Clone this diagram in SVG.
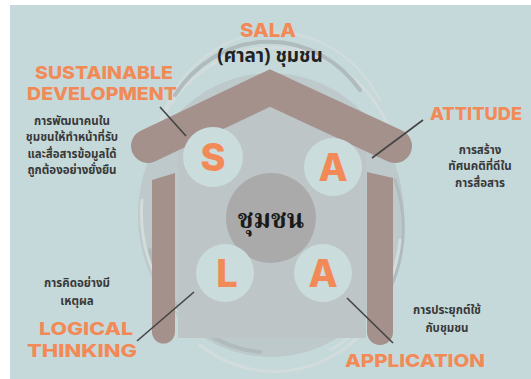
<svg xmlns="http://www.w3.org/2000/svg" width="531" height="379" viewBox="0 0 531 379">
<defs>
<style>
.en{font-family:Inter,"Open Sans","Liberation Sans",sans-serif;font-weight:800;fill:#f28a58;}
.th{font-family:"Noto Sans Thai","Noto Sans","DejaVu Sans",sans-serif;font-weight:700;fill:#383838;font-size:11.5px;text-anchor:middle;}
.lt{font-family:Inter,"Open Sans","Liberation Sans",sans-serif;font-weight:800;fill:#f28a58;font-size:38px;text-anchor:middle;}
.brown{stroke:#a4918c;fill:none;}
.conn{stroke:#444;stroke-width:1.6;fill:none;}
.swl{fill:none;stroke:#d3dcdc;stroke-linecap:round;}
.swd{fill:none;stroke:#afbbbc;stroke-linecap:round;}
.sc{fill:#cbdcdc;}
</style>
</defs>
<rect x="0" y="0" width="531" height="379" fill="#ffffff"/>
<rect x="10" y="5" width="521" height="374" fill="#c6d9da"/>

<g id="backdrop">
<ellipse cx="271" cy="215" rx="133" ry="142" fill="#bdc9ca"/>
<path class="swl" stroke-width="3" d="M150 150 A128 140 0 0 1 390 130"/>
<path class="swl" stroke-width="2" d="M165 110 A120 130 0 0 1 380 100"/>
<path class="swd" stroke-width="4" d="M175 95 A115 125 0 0 1 360 90"/>
<path class="swl" stroke-width="3" d="M142 200 A130 140 0 0 0 200 330"/>
<path class="swd" stroke-width="4" d="M150 250 A125 135 0 0 0 260 352"/>
<path class="swl" stroke-width="3" d="M200 345 A125 135 0 0 0 360 335"/>
<path class="swd" stroke-width="3" d="M395 180 A125 135 0 0 1 370 320"/>
<path class="swl" stroke-width="3" d="M400 240 A128 140 0 0 1 330 350"/>
<polygon points="270,107 178,150 178,338 366,338 366,150" fill="#bdc5c6"/>
</g>

<g id="roof">
<polyline class="brown" stroke-width="34" stroke-linecap="round" stroke-linejoin="miter" points="148,146 270,88 395,146"/>
</g>
<g id="col-left">
<path d="M152 180 L175 173 L175 332 A11.5 11.5 0 0 1 152 332 Z" fill="#a4918c"/>
</g>
<g id="col-right">
<path d="M367 172 L393 178 L393 332 A13 13 0 0 1 367 332 Z" fill="#a4918c"/>
</g>

<g id="connectors">
<line class="conn" x1="160" y1="107" x2="186" y2="136"/>
<line class="conn" x1="423" y1="120" x2="372" y2="158"/>
<line class="conn" x1="137" y1="341" x2="194" y2="292"/>
<line class="conn" x1="347" y1="298" x2="393" y2="343"/>
</g>

<g id="center">
<circle cx="271" cy="218" r="45" fill="#aaaaaa"/>
<text x="271" y="228" text-anchor="middle" font-family="'Noto Serif Thai','Noto Sans Thai','DejaVu Serif',serif" font-weight="700" font-size="26" fill="#1a1a1a">ชุมชน</text>
</g>

<g id="node-s">
<circle class="sc" cx="213" cy="157" r="30"/>
<text class="lt" x="213" y="171">S</text>
</g>
<g id="node-a1">
<circle class="sc" cx="333" cy="167" r="29"/>
<text class="lt" x="333" y="181">A</text>
</g>
<g id="node-l">
<circle class="sc" cx="225" cy="273" r="29"/>
<text class="lt" x="227" y="287">L</text>
</g>
<g id="node-a2">
<circle class="sc" cx="323" cy="273" r="29"/>
<text class="lt" x="323" y="287">A</text>
</g>

<g id="title">
<text class="en" x="268" y="37" font-size="19" text-anchor="middle" textLength="56" lengthAdjust="spacingAndGlyphs">SALA</text>
<text x="270" y="62" text-anchor="middle" font-family="'Noto Sans Thai','Noto Sans','DejaVu Sans',sans-serif" font-weight="700" font-size="19" fill="#222">(ศาลา) ชุมชน</text>
</g>

<g id="label-sd">
<text class="en" x="104" y="79" font-size="18" text-anchor="middle" textLength="138" lengthAdjust="spacingAndGlyphs">SUSTAINABLE</text>
<text class="en" x="102" y="100" font-size="18" text-anchor="middle" textLength="150" lengthAdjust="spacingAndGlyphs">DEVELOPMENT</text>
<text class="th" x="72" y="125">การพัฒนาคนใน</text>
<text class="th" x="72" y="141">ชุมชนให้ทำหน้าที่รับ</text>
<text class="th" x="72" y="158">และสื่อสารข้อมูลได้</text>
<text class="th" x="72" y="174">ถูกต้องอย่างยั่งยืน</text>
</g>

<g id="label-at">
<text class="en" x="476" y="120" font-size="18" text-anchor="middle" textLength="92" lengthAdjust="spacingAndGlyphs">ATTITUDE</text>
<text class="th" x="480" y="154">การสร้าง</text>
<text class="th" x="480" y="170">ทัศนคติที่ดีใน</text>
<text class="th" x="480" y="187">การสื่อสาร</text>
</g>

<g id="label-lt">
<text class="th" x="77" y="287">การคิดอย่างมี</text>
<text class="th" x="77" y="305">เหตุผล</text>
<text class="en" x="86" y="335" font-size="17" text-anchor="middle" textLength="94" lengthAdjust="spacingAndGlyphs">LOGICAL</text>
<text class="en" x="82" y="357" font-size="17" text-anchor="middle" textLength="110" lengthAdjust="spacingAndGlyphs">THINKING</text>
</g>

<g id="label-ap">
<text class="th" x="447" y="314">การประยุกต์ใช้</text>
<text class="th" x="447" y="332">กับชุมชน</text>
<text class="en" x="415" y="367" font-size="18" text-anchor="middle" textLength="140" lengthAdjust="spacingAndGlyphs">APPLICATION</text>
</g>
</svg>
